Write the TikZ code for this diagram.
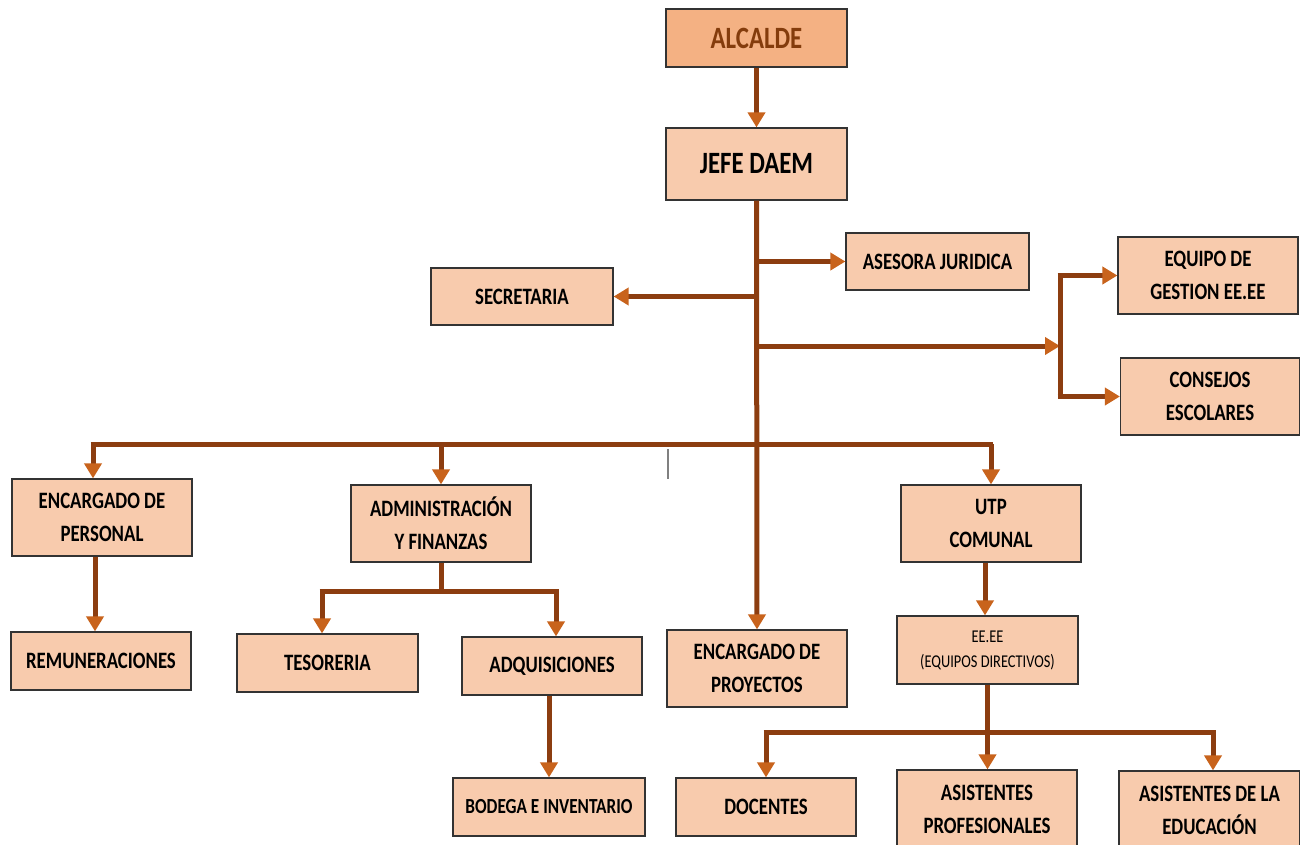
\documentclass[tikz,border=0pt]{standalone}
\usepackage{fontspec}
\setmainfont{Carlito}[FakeStretch=0.8]
\usetikzlibrary{arrows.meta}
\definecolor{boxfill}{HTML}{F8CBAD}
\definecolor{topfill}{HTML}{F4B183}
\definecolor{conncol}{HTML}{8C3D10}
\definecolor{tipcol}{HTML}{C8631C}
\definecolor{toptext}{HTML}{843C0C}
\tikzset{
  orgbox/.style={draw=black!80, line width=1.2pt, fill=boxfill, inner sep=0pt,
    align=center, font=\bfseries\fontsize{23.5}{33}\selectfont},
  linkline/.style={draw=conncol, line width=5pt},
  conn/.style={linkline, -{Triangle[length=15pt,width=17pt,fill=tipcol,color=tipcol]}},
}
\begin{document}
\begin{tikzpicture}[x=1pt,y=-1pt]
\useasboundingbox (0,0) rectangle (1300,845);
% boxes
\node[orgbox, fill=topfill, minimum width=181pt, minimum height=58pt,
  text=toptext, font=\bfseries\fontsize{31}{33}\selectfont] (alcalde) at (756.5,38) {ALCALDE};
\node[orgbox, minimum width=181pt, minimum height=72pt,
  font=\bfseries\fontsize{31}{33}\selectfont] (jefe) at (756.5,164) {JEFE DAEM};
\node[orgbox, minimum width=183pt, minimum height=57pt] (asesora) at (937.5,261.5) {ASESORA JURIDICA};
\node[orgbox, minimum width=182pt, minimum height=57pt] (secretaria) at (522,296.5) {SECRETARIA};
\node[orgbox, minimum width=180pt, minimum height=77pt] (equipo) at (1208,275.5) {EQUIPO DE\\GESTION EE.EE};
\node[orgbox, minimum width=179pt, minimum height=77pt] (consejos) at (1210,396.5) {CONSEJOS\\ESCOLARES};
\node[orgbox, minimum width=180pt, minimum height=77pt] (encper) at (102,517.5) {ENCARGADO DE\\PERSONAL};
\node[orgbox, minimum width=180pt, minimum height=77pt] (admin) at (441,523.5) {ADMINISTRACIÓN\\Y FINANZAS};
\node[orgbox, minimum width=180pt, minimum height=77pt] (utp) at (991,523.5) {UTP\\COMUNAL};
\node[orgbox, minimum width=180pt, minimum height=58pt] (remun) at (101,661) {REMUNERACIONES};
\node[orgbox, minimum width=181pt, minimum height=58pt] (teso) at (327.5,663) {TESORERIA};
\node[orgbox, minimum width=180pt, minimum height=58pt] (adq) at (552,666) {ADQUISICIONES};
\node[orgbox, minimum width=180pt, minimum height=77pt] (encproy) at (757,668.5) {ENCARGADO DE\\PROYECTOS};
\node[orgbox, minimum width=181pt, minimum height=68pt,
  font=\fontsize{18}{25}\selectfont] (eeee) at (987.5,650) {EE.EE\\(EQUIPOS DIRECTIVOS)};
\node[orgbox, minimum width=192pt, minimum height=58pt,
  font=\bfseries\fontsize{21.5}{33}\selectfont] (bodega) at (549,807) {BODEGA E INVENTARIO};
\node[orgbox, minimum width=180pt, minimum height=58pt] (docentes) at (766,807) {DOCENTES};
\node[orgbox, minimum width=180pt, minimum height=78pt] (asprof) at (987,809) {ASISTENTES\\PROFESIONALES};
\node[orgbox, minimum width=181pt, minimum height=78pt] (asedu) at (1209.5,810) {ASISTENTES DE LA\\EDUCACIÓN};
% helper coordinates
\coordinate (split) at (1060,346);
\coordinate (bus) at (0,444);
\coordinate (adbus) at (0,591);
\coordinate (eebus) at (0,732);
\coordinate (strayA) at (668,449);
\coordinate (strayB) at (668,479);
% connectors
\draw[conn] (alcalde.south) -- (jefe.north);
\draw[conn] (jefe.south) -- (encproy.north);
\draw[conn] (jefe.south |- asesora.west) -- (asesora.west);
\draw[conn] (jefe.south |- secretaria.east) -- (secretaria.east);
\draw[conn] (jefe.south |- split) -- (split);
\draw[linkline] ([yshift=-2.5pt]split |- equipo.west) -- ([yshift=2.5pt]split |- consejos.west);
\draw[conn] ([xshift=-2.5pt]split |- equipo.west) -- (equipo.west);
\draw[conn] ([xshift=-2.5pt]split |- consejos.west) -- (consejos.west);
% main bus
\draw[linkline] ([xshift=-11.5pt]encper.north |- bus) -- ([xshift=1.5pt]utp.north |- bus);
\draw[conn] ([xshift=-9pt]encper.north |- bus) -- ([xshift=-9pt]encper.north);
\draw[conn] (admin.north |- bus) -- (admin.north);
\draw[conn] (utp.north |- bus) -- (utp.north);
\draw[gray, line width=1.2pt] (strayA) -- (strayB);
% personal
\draw[conn] ([xshift=-7pt]encper.south) -- ([xshift=-6pt]remun.north);
% admin
\draw[linkline] (admin.south) -- (admin.south |- adbus);
\draw[linkline] ([xshift=-8pt]teso.north |- adbus) -- ([xshift=6.5pt]adq.north |- adbus);
\draw[conn] ([xshift=-5.5pt]teso.north |- adbus) -- ([xshift=-5.5pt]teso.north);
\draw[conn] ([xshift=4pt]adq.north |- adbus) -- ([xshift=4pt]adq.north);
\draw[conn] (bodega.north |- adq.south) -- (bodega.north);
% utp
\draw[conn] ([xshift=-6pt]utp.south) -- ([xshift=-2.5pt]eeee.north);
\draw[conn] (eeee.south) -- (eeee.south |- asprof.north);
\draw[linkline] ([xshift=-2.5pt]docentes.north |- eebus) -- ([xshift=6pt]asedu.north |- eebus);
\draw[conn] (docentes.north |- eebus) -- (docentes.north);
\draw[conn] ([xshift=3.5pt]asedu.north |- eebus) -- ([xshift=3.5pt]asedu.north);
\end{tikzpicture}
\end{document}
